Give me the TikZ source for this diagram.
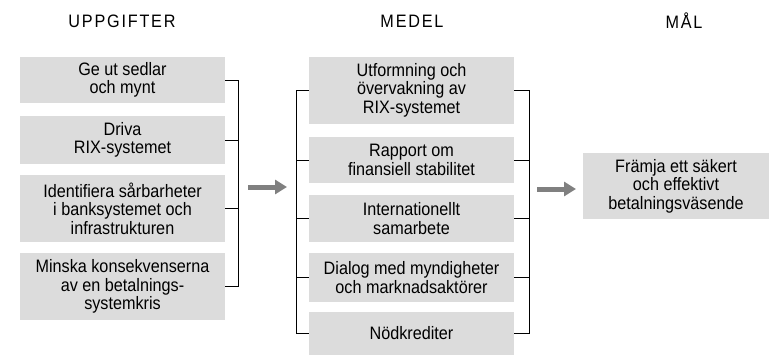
\documentclass[tikz,border=0pt]{standalone}
\usepackage{fontspec}
\setmainfont{Liberation Sans}[FakeStretch=0.9]
\usepackage{tikz}
\usetikzlibrary{arrows.meta}

\definecolor{boxgray}{RGB}{220,220,220}
\definecolor{arrowgray}{RGB}{128,128,128}

\begin{document}
\begin{tikzpicture}[x=1pt,y=-1pt,
    every node/.style={font=\fontsize{18}{18.5}\selectfont},
    box/.style={fill=boxgray, minimum width=205pt, align=center, inner sep=0pt},
    title/.style={font=\fontsize{18}{18.5}\selectfont\addfontfeature{LetterSpace=10}},
    bigarrow/.style={arrowgray, line width=5pt, -{Triangle[width=14pt,length=12pt]}}]
            \useasboundingbox (0,0) rectangle (770,356);

            % Headings
            \node[title] (th1) at (122,21) {UPPGIFTER};
            \node[title] (th2) at (412,21) {MEDEL};
            \node[title] (th3) at (684,21) {MÅL};

            % Uppgifter
            \node[box, minimum height=46pt] (u1) at (122.5,80) {Ge ut sedlar\\och mynt};
            \node[box, minimum height=48pt] (u2) at (122.5,140) {Driva\\RIX-systemet};
            \node[box, minimum height=67pt] (u3) at (122.5,208.5) {Identifiera sårbarheter\\i banksystemet och\\infrastrukturen};
            \node[box, minimum height=67pt] (u4) at (122.5,286.5) {Minska konsekvenserna\\av en betalnings-\\systemkris};

            % Medel
            \node[box, minimum height=67pt] (m1) at (411.5,90) {Utformning och\\övervakning av\\RIX-systemet};
            \node[box, minimum height=46pt] (m2) at (411.5,160) {Rapport om\\finansiell stabilitet};
            \node[box, minimum height=47pt] (m3) at (411.5,218.5) {Internationellt\\samarbete};
            \node[box, minimum height=49pt] (m4) at (411.5,277.5) {Dialog med myndigheter\\och marknadsaktörer};
            \node[box, minimum height=43pt] (m5) at (411.5,333.5) {Nödkrediter};

            % Mål
            \node[box, minimum width=186pt, minimum height=66pt] (g1) at (676,186) {Främja ett säkert\\och effektivt\\betalningsväsende};

            % Brackets
            \draw (u1.east) -- ++(13,0) coordinate (ub) |- (u4.east);
            \draw (u2.east) -- (u2.east -| ub);
            \draw (u3.east) -- (u3.east -| ub);

            \draw (m1.west) -- ++(-13,0) coordinate (ml) |- (m5.west);
            \draw (m2.west) -- (m2.west -| ml);
            \draw (m3.west) -- (m3.west -| ml);
            \draw (m4.west) -- (m4.west -| ml);

            \draw (m1.east) -- ++(15,0) coordinate (mr) |- (m5.east);
            \draw (m2.east) -- (m2.east -| mr);
            \draw (m3.east) -- (m3.east -| mr);
            \draw (m4.east) -- (m4.east -| mr);

            % Arrows
            \coordinate (a1) at (248,187);
            \coordinate (a2) at (287,187);
            \coordinate (a3) at (537,189);
            \coordinate (a4) at (576,189);
            \draw[bigarrow] (a1) -- (a2);
            \draw[bigarrow] (a3) -- (a4);

        \end{tikzpicture}
\end{document}
